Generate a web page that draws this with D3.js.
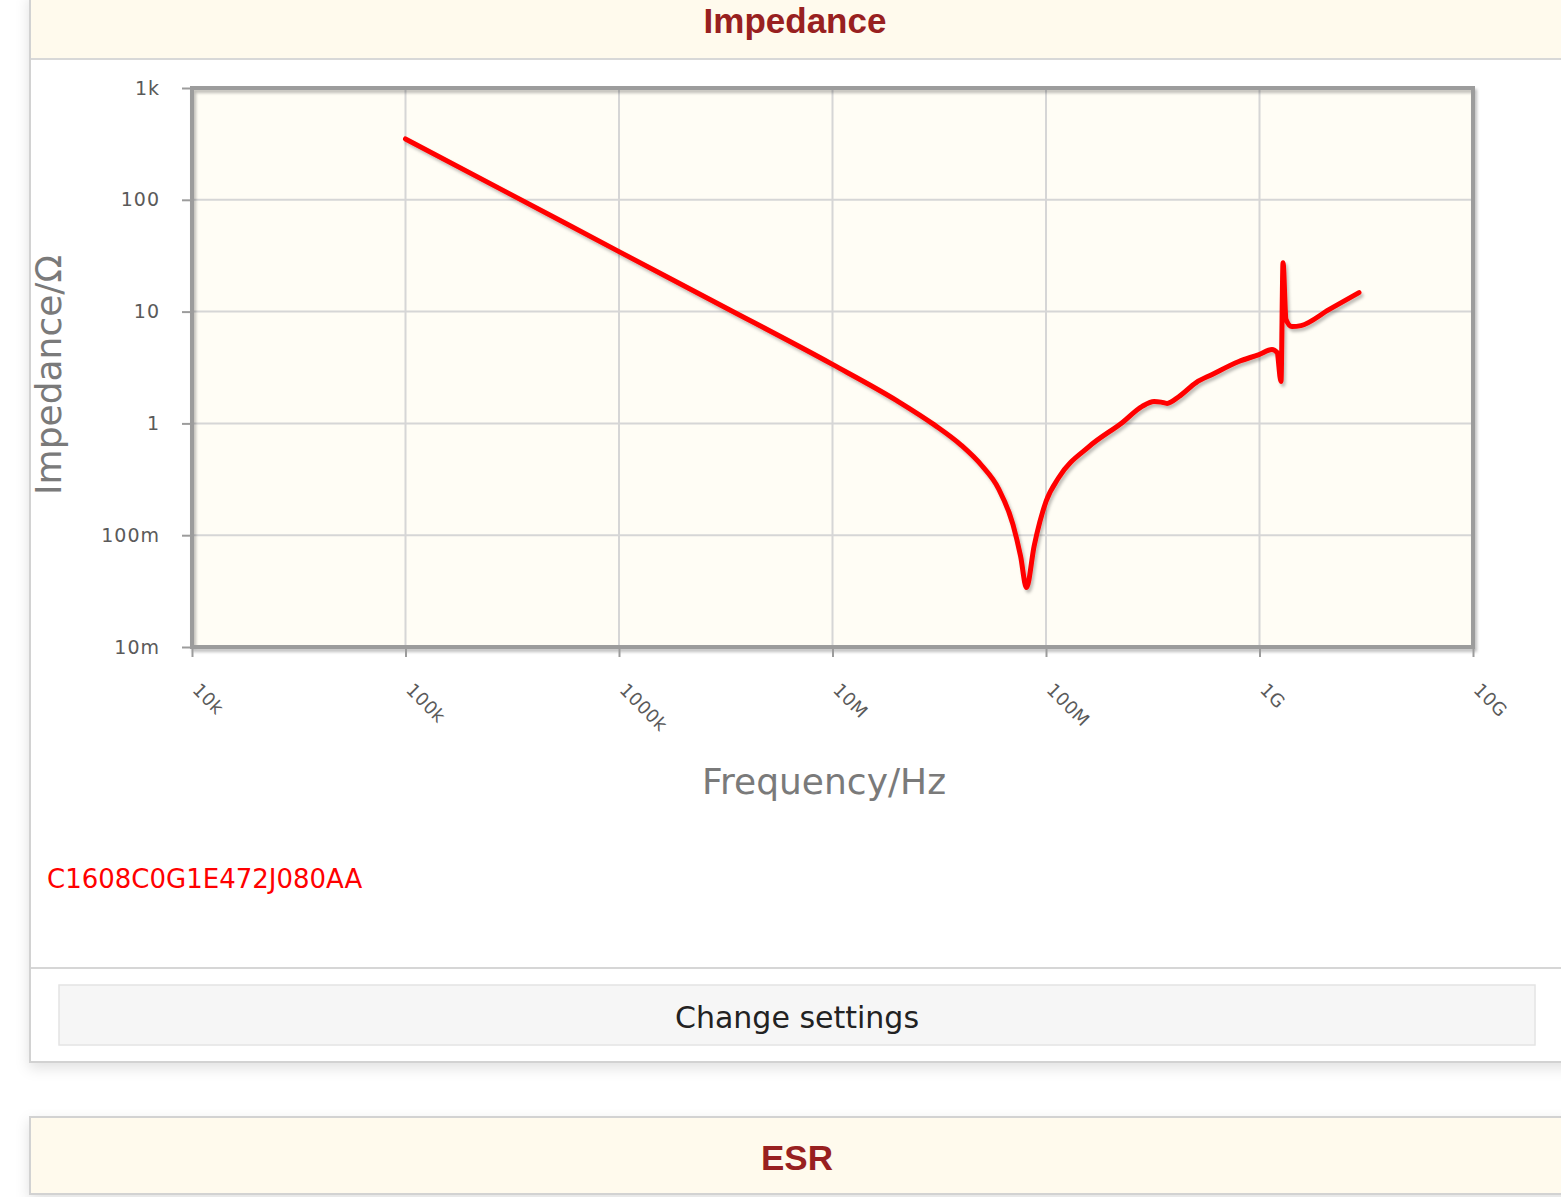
<!DOCTYPE html>
<html>
<head>
<meta charset="utf-8">
<script src="https://cdn.jsdelivr.net/npm/d3@7"></script>
<style>
  body { margin: 0; background: #fff; overflow: hidden; }
  svg { display: block; }
</style>
</head>
<body>
<div id="page"></div>
<script>
// chart values
var freqHz = [1e5, 3e5, 1e6, 3e6, 1e7, 2e7, 3e7, 4e7, 5e7, 6e7, 7e7, 7.6e7, 8.1e7, 8.8e7,
  1e8, 1.15e8, 1.59e8, 2.28e8, 2.82e8, 3.21e8, 3.46e8, 3.69e8, 4.2e8, 5.05e8, 6e8, 8e8,
  9.95e8, 1.144e9, 1.208e9, 1.261e9, 1.289e9, 1.331e9, 1.419e9, 1.564e9, 2.113e9, 2.924e9];
var impedanceOhm = [350, 116, 34.4, 11.4, 3.37, 1.6, 0.97, 0.64, 0.42, 0.26, 0.125, 0.065, 0.034, 0.08,
  0.2, 0.33, 0.62, 1.02, 1.42, 1.57, 1.55, 1.51, 1.74, 2.32, 2.74, 3.58,
  4.13, 4.58, 4.31, 2.37, 27.4, 8.5, 7.35, 7.5, 10.4, 14.8];
var xTicks = [1e4, 1e5, 1e6, 1e7, 1e8, 1e9, 1e10];
var xTickLabels = ["10k", "100k", "1000k", "10M", "100M", "1G", "10G"];
var yTicks = [1000, 100, 10, 1, 0.1, 0.01];
var yTickLabels = ["1k", "100", "10", "1", "100m", "10m"];
var partName = "C1608C0G1E472J080AA";

var W = 1561, H = 1197;
var plot = {left: 192, right: 1473, top: 88, bottom: 647};

var svg = d3.select("#page").append("svg")
  .attr("width", W)
  .attr("height", H)
  .style("font-family", "'DejaVu Sans', Verdana, sans-serif");

var defs = svg.append("defs");
defs.append("filter").attr("id", "panelShadow")
  .attr("x", "-10%").attr("y", "-10%").attr("width", "120%").attr("height", "130%")
  .append("feDropShadow")
    .attr("dx", 0).attr("dy", 5).attr("stdDeviation", 7)
    .attr("flood-color", "#000").attr("flood-opacity", 0.12);
defs.append("filter").attr("id", "lineShadow")
  .attr("x", "-5%").attr("y", "-5%").attr("width", "110%").attr("height", "110%")
  .append("feDropShadow")
    .attr("dx", 2).attr("dy", 3).attr("stdDeviation", 1.6)
    .attr("flood-color", "#000").attr("flood-opacity", 0.25);

// first panel
svg.append("rect")
  .attr("x", 30).attr("y", -6).attr("width", 1580).attr("height", 1068)
  .attr("fill", "#fff").attr("stroke", "#d2d2d2").attr("stroke-width", 2)
  .attr("filter", "url(#panelShadow)");
svg.append("rect")
  .attr("x", 31).attr("y", -6).attr("width", 1560).attr("height", 65)
  .attr("fill", "#fffaed");
svg.append("line")
  .attr("x1", 31).attr("x2", W).attr("y1", 59).attr("y2", 59)
  .style("stroke", "#d8d8d8").style("stroke-width", 2);
svg.append("text")
  .attr("x", 795).attr("y", 33)
  .attr("text-anchor", "middle")
  .style("font", "bold 35px 'Liberation Sans', Arial, sans-serif")
  .style("fill", "#982020")
  .text("Impedance");

var x = d3.scaleLog().domain([1e4, 1e10]).range([plot.left, plot.right]);
var y = d3.scaleLog().domain([0.01, 1000]).range([plot.bottom, plot.top]);

var g = svg.append("g");

g.append("rect")
  .attr("x", plot.left).attr("y", plot.top)
  .attr("width", plot.right - plot.left).attr("height", plot.bottom - plot.top)
  .attr("fill", "#fffdf5");

// grid
g.selectAll(".vgrid")
  .data(xTicks.slice(1, -1)).enter()
  .append("line")
    .attr("x1", function(d) { return x(d); })
    .attr("x2", function(d) { return x(d); })
    .attr("y1", plot.top).attr("y2", plot.bottom)
    .style("stroke", "#d6d6d6").style("stroke-width", 2);
g.selectAll(".hgrid")
  .data(yTicks.slice(1, -1)).enter()
  .append("line")
    .attr("x1", plot.left).attr("x2", plot.right)
    .attr("y1", function(d) { return y(d); })
    .attr("y2", function(d) { return y(d); })
    .style("stroke", "#d6d6d6").style("stroke-width", 2);

// frame
g.append("rect")
  .attr("x", plot.left).attr("y", plot.top)
  .attr("width", plot.right - plot.left).attr("height", plot.bottom - plot.top)
  .attr("fill", "none").attr("stroke", "#9c9c9c").attr("stroke-width", 4)
  .attr("filter", "url(#lineShadow)");

// axes
var yAxis = d3.axisLeft(y)
  .tickValues(yTicks)
  .tickFormat(function(d, i) { return yTickLabels[i]; })
  .tickSize(10)
  .tickPadding(22);
var yg = g.append("g")
  .attr("transform", "translate(" + plot.left + ",0)")
  .call(yAxis);
yg.select(".domain").remove();
yg.selectAll(".tick line").style("stroke", "#9c9c9c").style("stroke-width", 2);
yg.selectAll(".tick text")
  .style("font-size", "19px")
  .style("letter-spacing", "1px")
  .style("font-family", "'DejaVu Sans', Verdana, sans-serif")
  .style("fill", "#5a5a5a");

var xAxis = d3.axisBottom(x)
  .tickValues(xTicks)
  .tickFormat(function(d, i) { return xTickLabels[i]; })
  .tickSize(10);
var xg = g.append("g")
  .attr("transform", "translate(0," + plot.bottom + ")")
  .call(xAxis);
xg.select(".domain").remove();
xg.selectAll(".tick line").style("stroke", "#9c9c9c").style("stroke-width", 2);
xg.selectAll(".tick text")
  .attr("x", 0).attr("y", 0).attr("dy", 0)
  .attr("transform", "translate(-1,44) rotate(45)")
  .attr("text-anchor", "start")
  .style("font-size", "18px")
  .style("letter-spacing", "0.5px")
  .style("font-family", "'DejaVu Sans', Verdana, sans-serif")
  .style("fill", "#5a5a5a");

// axis titles
svg.append("text")
  .attr("transform", "translate(61,375) rotate(-90)")
  .attr("text-anchor", "middle")
  .style("font-size", "36px")
  .style("fill", "#7a7a7a")
  .text("Impedance/Ω");
svg.append("text")
  .attr("x", 824).attr("y", 794)
  .attr("text-anchor", "middle")
  .style("font-size", "36px")
  .style("fill", "#7a7a7a")
  .text("Frequency/Hz");

// curve
var pts = freqHz.map(function(f, i) { return [f, impedanceOhm[i]]; });
var line = d3.line()
  .x(function(d) { return x(d[0]); })
  .y(function(d) { return y(d[1]); })
  .curve(d3.curveMonotoneX);
g.append("path")
  .datum(pts)
  .attr("d", line)
  .attr("fill", "none")
  .style("stroke", "#ff0000")
  .style("stroke-width", 5)
  .style("stroke-linecap", "round")
  .style("stroke-linejoin", "round")
  .attr("filter", "url(#lineShadow)");

// legend
svg.append("text")
  .attr("x", 47).attr("y", 888)
  .style("font-size", "26px")
  .style("fill", "#ff0000")
  .text(partName);

// separator and button
svg.append("line")
  .attr("x1", 31).attr("x2", W).attr("y1", 968).attr("y2", 968)
  .style("stroke", "#d6d6d6").style("stroke-width", 2);
svg.append("rect")
  .attr("x", 59).attr("y", 985).attr("width", 1476).attr("height", 60)
  .attr("fill", "#f6f6f6").attr("stroke", "#e4e4e4").attr("stroke-width", 1.5);
svg.append("text")
  .attr("x", 797).attr("y", 1028)
  .attr("text-anchor", "middle")
  .style("font-size", "30px")
  .style("fill", "#222")
  .text("Change settings");

// second panel header
svg.append("rect")
  .attr("x", 30).attr("y", 1117).attr("width", 1580).attr("height", 77)
  .attr("fill", "#fffaed").attr("stroke", "#d2d2d2").attr("stroke-width", 2)
  .attr("filter", "url(#panelShadow)");
svg.append("text")
  .attr("x", 797).attr("y", 1170)
  .attr("text-anchor", "middle")
  .style("font", "bold 35px 'Liberation Sans', Arial, sans-serif")
  .style("fill", "#982020")
  .text("ESR");
</script>
</body>
</html>
